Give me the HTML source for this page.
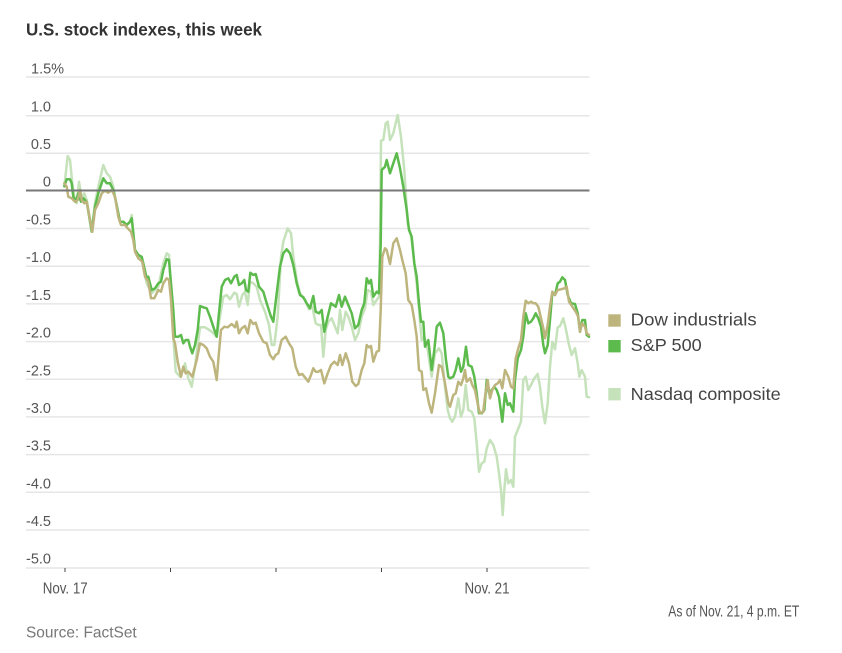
<!DOCTYPE html>
<html><head><meta charset="utf-8"><style>
html,body{margin:0;padding:0;background:#fff;}
svg{display:block;}
</style></head><body>
<svg width="842" height="653" viewBox="0 0 842 653" xmlns="http://www.w3.org/2000/svg" font-family="Liberation Sans, sans-serif">
<text x="26" y="35.7" font-size="17.3" font-weight="bold" fill="#333" textLength="236" lengthAdjust="spacingAndGlyphs">U.S. stock indexes, this week</text>
<g stroke="#e6e6e6" stroke-width="1.5">
<line x1="26" x2="589.5" y1="77" y2="77"/>
<line x1="26" x2="589.5" y1="115.7" y2="115.7"/>
<line x1="26" x2="589.5" y1="153.2" y2="153.2"/>
<line x1="26" x2="589.5" y1="228.5" y2="228.5"/>
<line x1="26" x2="589.5" y1="266.2" y2="266.2"/>
<line x1="26" x2="589.5" y1="303.9" y2="303.9"/>
<line x1="26" x2="589.5" y1="341.6" y2="341.6"/>
<line x1="26" x2="589.5" y1="379.3" y2="379.3"/>
<line x1="26" x2="589.5" y1="416.9" y2="416.9"/>
<line x1="26" x2="589.5" y1="454.6" y2="454.6"/>
<line x1="26" x2="589.5" y1="492.3" y2="492.3"/>
<line x1="26" x2="589.5" y1="530" y2="530"/>
<line x1="26" x2="589.5" y1="568" y2="568"/>
</g>
<text x="31" y="73.5" font-size="14.5" fill="#555">1.5%</text>
<g font-size="14.5" fill="#555" text-anchor="end">
<text x="51" y="111.7">1.0</text>
<text x="51" y="149.2">0.5</text>
<text x="51" y="186.5">0</text>
<text x="51" y="224.5">-0.5</text>
<text x="51" y="262.2">-1.0</text>
<text x="51" y="299.9">-1.5</text>
<text x="51" y="337.6">-2.0</text>
<text x="51" y="375.3">-2.5</text>
<text x="51" y="412.9">-3.0</text>
<text x="51" y="450.6">-3.5</text>
<text x="51" y="488.3">-4.0</text>
<text x="51" y="526">-4.5</text>
<text x="51" y="563.5">-5.0</text>
</g>
<g stroke="#444" stroke-width="1">
<line x1="65" x2="65" y1="568" y2="572"/>
<line x1="170.5" x2="170.5" y1="568" y2="572"/>
<line x1="276" x2="276" y1="568" y2="572"/>
<line x1="381.5" x2="381.5" y1="568" y2="572"/>
<line x1="487" x2="487" y1="568" y2="572"/>
</g>
<text x="42.7" y="593.3" font-size="16" fill="#555" textLength="45" lengthAdjust="spacingAndGlyphs">Nov. 17</text>
<text x="464.5" y="593.3" font-size="16" fill="#555" textLength="45" lengthAdjust="spacingAndGlyphs">Nov. 21</text>
<g fill="none" stroke-width="2.5" stroke-linejoin="round" stroke-linecap="round">
<polyline stroke="#c5e2bb" points="64.3,186.7 67.7,156 70,160 72.3,183.3 74.3,196.7 76.7,203.3 79,181.7 81.7,198.3 84.3,193.3 86.7,200 91.7,230 95,203.3 98.3,186.7 103.3,165 106.7,173.3 110,176.7 113.3,186.7 116.7,206.7 120,221.7 123.3,221.7 126.7,225 130,221.7 131.7,215 135,250 141.7,260 146.7,283.3 151.7,293.3 158.3,286.7 163.3,263.3 166.7,253.3 169,255 171,290 173.3,336.7 175.7,371.7 180,376.7 183.3,370 185,363.3 188.3,378.3 191.7,386.7 195,366.7 198.3,340 200,327.3 205,327.3 208.3,329.3 211.7,331.7 215,335 216.7,336.7 220,316.7 223.3,296.7 226.7,295 230,299.3 234.3,292.7 236.7,294 239,306.7 242.3,295 245,291.7 247.7,305 250,281.7 253.3,283.3 256.7,286.7 260,300 265,311.7 269,325 271.7,345 274.3,345 277.7,316.7 281,256.7 283.3,241.7 287.7,228.3 291,233.3 293.3,256.7 296.7,280 300,293.3 305,300 309,309.3 312.3,306.7 315.7,323.3 318.3,325 321,325 323.3,356.7 325.7,330 328.3,321.7 331.7,318.3 335,326.7 337.7,333.3 340,310 342.3,330 345.7,311.7 348.3,316.7 351.7,326.7 355,340 358.3,333.3 361.7,316.7 365,308.3 367.7,290 371,291.7 373.3,305 376.7,300 379,296.7 380,243.3 381,140.7 383.3,140 385.7,123.3 387.7,121.7 390,140 393.3,133.3 397.7,115 401,136.7 404.3,170 407.7,223.3 411,235 414.3,263.3 416.7,283.3 419,310 421.7,340 424.3,336.7 427.7,350 431.7,376.7 435,353.3 439,348.3 441.7,353.3 445,386.7 447.7,410 450,418.3 452.3,421.7 455,416.7 458.3,398.3 461,416.7 463.3,410 465.7,385 468.3,410 471.7,411.7 474.3,418.3 476.7,443.3 479,471.7 481.7,463.3 484.3,461.7 486.7,448.3 490,440 493.3,445 496.7,456.7 499,473.3 501,490 502.7,515 504.3,490 506,469.3 508.3,483.3 511,480 513.3,486.7 515,436.7 517.7,430 521,421.7 523.3,380 525.7,376.7 528.3,390 531,385 534.3,378.3 537.7,374 540,386.7 542.3,406.7 545,423.3 547.7,403.3 550,366.7 552.3,341.7 555,349.3 557.7,327.3 560,326 563.3,318.3 565.7,328.3 569,345 571.7,355 575,348.3 577.7,363.3 579.3,376.7 581.7,370 585,376.7 586.7,396.7 589,397.3"/>
<polyline stroke="#5cbb4c" points="64.3,186 66.7,179.3 70,179.3 71.7,183.3 73.3,196.7 75.7,201.7 78.3,193.3 81,201.7 83.3,198.3 86.7,201.7 91.7,231.7 95,206.7 98.3,193.3 103.3,178.3 106.7,183.3 110,183.3 113.3,190 116.7,205 120,221.7 123.3,221.7 126.7,225 130,221.7 131.7,218.3 133.3,233.3 135,250 138.3,255 141.7,256.7 143.3,263.3 146.7,278.3 148.3,276.7 151.7,290 155,288.3 158.3,283.3 161,281.7 163.3,270 166.7,259.3 169,260 171,283.3 173.3,310 175,336.7 178.3,336.7 181,335 183.3,343.3 185.7,340 188.3,340 190,346.7 192.3,353.3 195,345 197.7,330 200,306 203.3,307.3 206.7,308.3 210,316.7 213.3,326.7 216.7,336.7 218.3,320 221.7,286.7 225,280 228.3,278.3 231,283.3 234.3,276.7 236.7,275 239,285 241.7,283.3 244.3,280 246,290 248.3,291.7 250.3,272.7 253.3,275 255.7,274 259,286.7 263.3,291.7 266.7,303.3 271,316.7 273.3,321.7 276.7,293.3 280,266.7 283.3,253.3 286.7,249.3 290,253.3 293.3,265 296.7,283.3 300,295 303.3,297.3 306.7,303.3 310,308.3 313.3,296 315.7,311.7 319,313.3 321.7,310 324.3,331.7 327.7,316.7 331,303.3 333.3,305 335.7,306.7 339,295 341.7,306.7 345,296.7 348.3,305 351.7,313.3 355,328.3 358.3,325 361.7,310 364.3,303.3 366.7,278.3 369,283.3 371,280 373.3,296.7 376.7,291.7 379,293.3 380.7,243.3 381.7,170 385,166.7 386.7,160 390,173.3 393.3,163.3 396.7,153.3 400,168.3 403.3,186.7 406.7,210 409,230 411.7,236.7 414.3,263.3 416.7,276.7 419,303.3 421,321.7 423.3,321.7 425,346.7 428.3,340 431.7,370 434.3,350 436.7,326.7 440,322.7 443.3,333.3 446,360 448.3,376.7 450,378.3 453.3,376.7 455.7,370 458.3,358.3 461,371.7 463.3,366.7 466,346.7 468.3,365 471.7,366.7 474.3,376.7 476.7,393.3 479,413.3 481.7,413.3 484.3,410 486.7,380 489,393.3 491.7,390 494.3,386.7 496.7,390 499,396.7 502.3,421.7 505,393.3 507.7,405 510,403.3 513.3,411.7 515,380 517.7,358.3 521,350 523.3,336.7 525.7,313.3 528.3,323.3 531,321.7 533.3,318.3 535.7,313.3 538.3,318.3 541,326.7 543.3,345 545,353.3 547.7,345 550,320 552.3,293.3 555,295 557.7,283.3 560,281.7 562.3,277.3 565,280 567.7,295 571,303.3 575,304 577.7,313.3 580,331.7 582.3,320 585,320 586.7,335 589,336.7"/>
<polyline stroke="#bdb57d" points="64.3,183.3 66.7,186.7 68.3,196.7 71.7,198.3 75,201.7 77.7,200 80,190 81.7,200 84.3,203.3 86.7,201.7 90,220 92.3,231.7 95,210 98.3,203.3 101.7,193.3 105,190.7 108.3,192.7 111.7,190 115,196.7 118.3,216.7 121,225 125,225 127.7,228.3 131,231.7 133.3,240 135,251.7 138.3,258.3 142.3,261.7 145,276.7 148.3,281.7 151,298.3 154.3,298.3 158.3,290 161,291.7 163.3,283.3 166.7,278.3 169,280 171,300 173.3,338.3 175,343.3 177.7,361.7 181,376.7 183.3,366.7 185.7,373.3 188.3,371.7 192.3,376.7 196.7,360 200,343.3 203.3,345 206.7,348.3 210,356.7 213.3,361.7 216.7,380 218.3,360 221,330 224.3,326.7 227.7,327.3 231.7,324 235,327.3 236.7,321.7 239,333.3 241.7,328.3 245,326 247.7,333.3 250.3,320 253.3,324 255.7,322.7 259,333.3 263.3,341.7 266.7,343.3 270,355 273.3,359.3 275.7,355 278.3,353.3 281.7,340 285.7,336.7 289,343.3 292.3,348.3 295.7,366.7 299,375 302.3,374 305.7,378.3 308.3,381.7 311,375 313.3,368.3 315.7,371.7 318.3,371.7 321,370 324.3,383.3 327.7,373.3 331,365 334.3,361.7 337.7,365 340,355 342.3,365 345.7,353.3 349,363.3 352.3,381.7 355.7,386 358.3,384 361.7,370 364.3,363.3 366.7,345 369,347.3 371,346 373.3,361.7 376.7,351.7 379,350.7 380.7,310 382.3,256.7 385,248.3 386.7,250 390,264 393.3,243.3 396.7,238.3 400,250 402.3,260 405.7,273.3 408.3,300 411.7,305 414.3,320 416.7,336.7 419,370 421.7,371.7 423.3,390 426,388.3 429,403.3 431.7,412.7 435,393.3 439,365 441.7,366.7 445,383.3 448.3,403.3 450,406.7 453.3,395 455.7,393.3 458.3,381.7 461,385 463.3,378.3 465,370 466.7,381.7 470,378.3 472.3,385 475,390 478.3,406.7 480,413.3 483.3,411.7 485,396.7 487.7,380 490,398.3 492.3,390 495,385 497.7,383.3 500,380 502.3,388.3 505,370 508.3,376.7 511,386.7 513.3,388.3 515.7,358.3 518.3,348.3 521,340 523.3,316.7 525.7,300.7 528.3,303.3 531,301.7 533.3,303.3 535.7,303.3 538.3,306.7 541,318.3 543.3,328.3 545,338.3 547.7,325 550,306.7 552.3,291.7 555,295 557.7,290 561,289.3 564.3,288.3 566.7,286.7 569,301.7 572.3,306.7 575.7,311.7 578.3,316.7 580,331.7 582.3,323.3 585,326.7 586.7,333.3 589,335"/>
</g>
<line x1="26" x2="589.5" y1="190.5" y2="190.5" stroke="#777" stroke-width="2"/>
<rect x="608.3" y="314.3" width="12.4" height="12.4" fill="#bdb57d"/>
<rect x="608.3" y="340" width="12.4" height="12.4" fill="#5cbb4c"/>
<rect x="608.3" y="388" width="12.4" height="12.4" fill="#c5e2bb"/>
<g font-size="17.5" fill="#444">
<text x="630.7" y="325.7" textLength="126" lengthAdjust="spacingAndGlyphs">Dow industrials</text>
<text x="630.7" y="351" textLength="71" lengthAdjust="spacingAndGlyphs">S&amp;P 500</text>
<text x="630.7" y="400" textLength="150" lengthAdjust="spacingAndGlyphs">Nasdaq composite</text>
</g>
<text x="668.3" y="616.7" font-size="15.5" fill="#555" textLength="131" lengthAdjust="spacingAndGlyphs">As of Nov. 21, 4 p.m. ET</text>
<text x="26" y="637.7" font-size="16" fill="#777" textLength="110.7" lengthAdjust="spacingAndGlyphs">Source: FactSet</text>
</svg>
</body></html>
